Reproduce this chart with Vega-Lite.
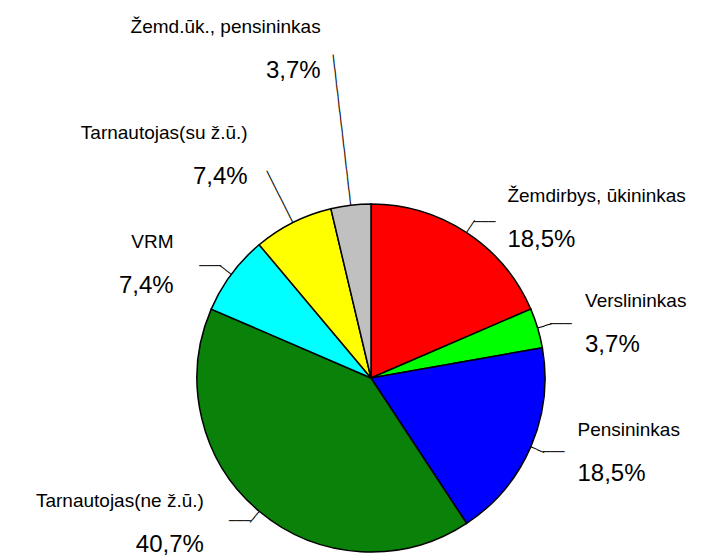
{
  "$schema": "https://vega.github.io/schema/vega-lite/v6.json",
  "width": 666,
  "height": 360,
  "autosize": {"type": "none"},
  "padding": {"left": 38, "top": 198, "right": 0, "bottom": 0},
  "background": "white",
  "config": {"view": {"stroke": null}, "text": {"font": "Liberation Sans", "color": "black"}},
  "data": {
    "values": [
      {"category": "Žemdirbys, ūkininkas", "pct": 18.5, "label": "18,5%", "order": 1},
      {"category": "Verslininkas", "pct": 3.7, "label": "3,7%", "order": 2},
      {"category": "Pensininkas", "pct": 18.5, "label": "18,5%", "order": 3},
      {"category": "Tarnautojas(ne ž.ū.)", "pct": 40.7, "label": "40,7%", "order": 4},
      {"category": "VRM", "pct": 7.4, "label": "7,4%", "order": 5},
      {"category": "Tarnautojas(su ž.ū.)", "pct": 7.4, "label": "7,4%", "order": 6},
      {"category": "Žemd.ūk., pensininkas", "pct": 3.7, "label": "3,7%", "order": 7}
    ]
  },
  "encoding": {
    "theta": {"field": "pct", "type": "quantitative", "stack": true},
    "order": {"field": "order", "type": "quantitative"}
  },
  "layer": [
    {
      "mark": {"type": "arc", "radius": 174, "stroke": "black", "strokeWidth": 1.5},
      "encoding": {
        "color": {
          "field": "category",
          "type": "nominal",
          "scale": {
            "domain": ["Žemdirbys, ūkininkas", "Verslininkas", "Pensininkas", "Tarnautojas(ne ž.ū.)", "VRM", "Tarnautojas(su ž.ū.)", "Žemd.ūk., pensininkas"],
            "range": ["#FF0000", "#00FF00", "#0000FF", "#0A820A", "#00FFFF", "#FFFF00", "#C0C0C0"]
          },
          "legend": null
        }
      }
    },
    {
      "mark": {
        "type": "text",
        "font": "DejaVu Sans Mono",
        "fontSize": 12,
        "radius": 174,
        "align": "left",
        "baseline": "middle",
        "angle": {"expr": "(datum.pct_start + datum.pct_end) * 180 / 99.9 - 90"},
        "text": {"expr": "(datum.pct_start + datum.pct_end) * 180 / 99.9 > 340 ? '─────────────────────' : ((datum.pct_start + datum.pct_end) * 180 / 99.9 > 320 ? '────────' : '──')"}
      }
    },
    {
      "mark": {
        "type": "text",
        "font": "DejaVu Sans Mono",
        "fontSize": 12,
        "radius": 187,
        "baseline": "middle",
        "align": {"expr": "(datum.pct_start + datum.pct_end) * 180 / 99.9 < 180 ? 'left' : 'right'"},
        "text": {"expr": "(datum.pct_start + datum.pct_end) * 180 / 99.9 > 320 ? '' : '───'"}
      }
    },
    {
      "mark": {
        "type": "text",
        "fontSize": 19,
        "baseline": "middle",
        "dy": -23,
        "radius": {"expr": "(datum.pct_start + datum.pct_end) * 180 / 99.9 > 340 ? 330 : ((datum.pct_start + datum.pct_end) * 180 / 99.9 > 320 ? 248 : 190)"},
        "align": {"expr": "(datum.pct_start + datum.pct_end) * 180 / 99.9 < 180 ? 'left' : 'right'"},
        "dx": {"expr": "(datum.pct_start + datum.pct_end) * 180 / 99.9 < 180 ? 32 : ((datum.pct_start + datum.pct_end) * 180 / 99.9 > 320 ? -12 : -45)"}
      },
      "encoding": {"text": {"field": "category", "type": "nominal"}}
    },
    {
      "mark": {
        "type": "text",
        "fontSize": 24,
        "baseline": "middle",
        "dy": 21,
        "radius": {"expr": "(datum.pct_start + datum.pct_end) * 180 / 99.9 > 340 ? 330 : ((datum.pct_start + datum.pct_end) * 180 / 99.9 > 320 ? 248 : 190)"},
        "align": {"expr": "(datum.pct_start + datum.pct_end) * 180 / 99.9 < 180 ? 'left' : 'right'"},
        "dx": {"expr": "(datum.pct_start + datum.pct_end) * 180 / 99.9 < 180 ? 32 : ((datum.pct_start + datum.pct_end) * 180 / 99.9 > 320 ? -12 : -45)"}
      },
      "encoding": {"text": {"field": "label", "type": "nominal"}}
    }
  ]
}
